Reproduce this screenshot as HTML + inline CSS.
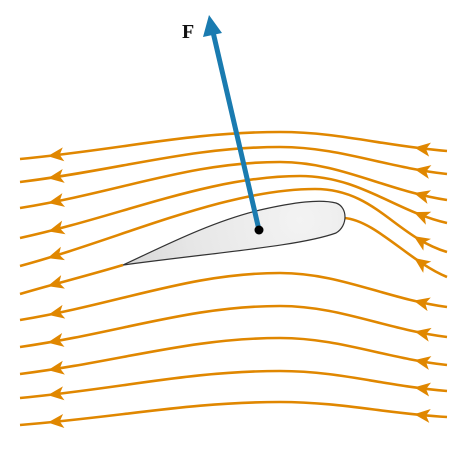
<!DOCTYPE html>
<html><head><meta charset="utf-8">
<style>
html,body{margin:0;padding:0;background:#fff;}
svg{display:block;}
</style></head>
<body>
<svg id="fig" width="472" height="450" viewBox="0 0 472 450" xmlns="http://www.w3.org/2000/svg">
  <defs>
    <radialGradient id="wing" gradientUnits="userSpaceOnUse" cx="300" cy="220" r="190">
      <stop offset="0" stop-color="#f3f3f3"/>
      <stop offset="0.6" stop-color="#e6e6e6"/>
      <stop offset="1" stop-color="#d4d4d4"/>
    </radialGradient>
  </defs>
  <g id="lines"></g>
  <path d="M123,265 C160,248 210,222 260,210 C295,202 320,199 336,203 C348,207 348,226 336,233 C300,246 220,252 123,265 Z"
        fill="url(#wing)" stroke="#333" stroke-width="1.2"/>
  <line x1="259" y1="230" x2="213" y2="32" stroke="#1a7bb0" stroke-width="5"/>
  <polygon points="209,15 203,37 222,33" fill="#1a7bb0"/>
  <circle cx="259" cy="230" r="4.5" fill="#000"/>
  <text x="182" y="38" font-family="Liberation Serif, serif" font-weight="bold" font-size="20" fill="#111">F</text>
</svg>
<script>
// streamline data (y positions)
const rightY = [151,174,200,223,252,277,307,337,365,391,417];
const peakY  = [132,147,162,176,189,0,273,306,338,371,402];
const leftY  = [159,182,208,238,266,294,320,347,374,398,425];

const NS = "http://www.w3.org/2000/svg";
const g = document.getElementById('lines');
const XR = 447, XL = 20;

function streamPath(i){
  const r = rightY[i], p = peakY[i], l = leftY[i];
  if (i === 5) {
    return `M${XR},${r} C410,262 375,220 344,218 M123,265 C90,275 50,285 ${XL},${l}`;
  }
  const px = i === 4 ? 315 : (i === 3 ? 300 : 280);
  const c1 = i >= 3 && i <= 4 ? 395 : 385;
  return `M${XR},${r} C${c1},${r - (r-p)*0.25} ${px+60},${p} ${px},${p} ` +
         `C${px-90},${p} 120,${l - (l-p)*0.35} ${XL},${l}`;
}

function addArrow(path, targetX){
  const L = path.getTotalLength();
  let best = 0, bd = 1e9;
  for (let s = 0; s <= L; s += 1) {
    const pt = path.getPointAtLength(s);
    const d = Math.abs(pt.x - targetX);
    if (d < bd) { bd = d; best = s; }
  }
  const a = path.getPointAtLength(Math.max(0, best - 3));
  const b = path.getPointAtLength(Math.min(L, best + 3));
  const ang = Math.atan2(b.y - a.y, b.x - a.x);
  const tip = path.getPointAtLength(best);
  const tri = document.createElementNS(NS, 'polygon');
  tri.setAttribute('points', '0,0 16,-7 12,0 16,7');
  tri.setAttribute('fill', '#e08700');
  tri.setAttribute('transform', `translate(${tip.x},${tip.y}) rotate(${ang*180/Math.PI + 180})`);
  
  
  g.appendChild(tri);
}

for (let i = 0; i < rightY.length; i++) {
  const path = document.createElementNS(NS, 'path');
  path.setAttribute('d', streamPath(i));
  path.setAttribute('fill', 'none');
  path.setAttribute('stroke', '#e08700');
  path.setAttribute('stroke-width', '2.6');
  
  
  g.appendChild(path);
  addArrow(path, 48);
  addArrow(path, 414);
}
</script>
</body></html>
